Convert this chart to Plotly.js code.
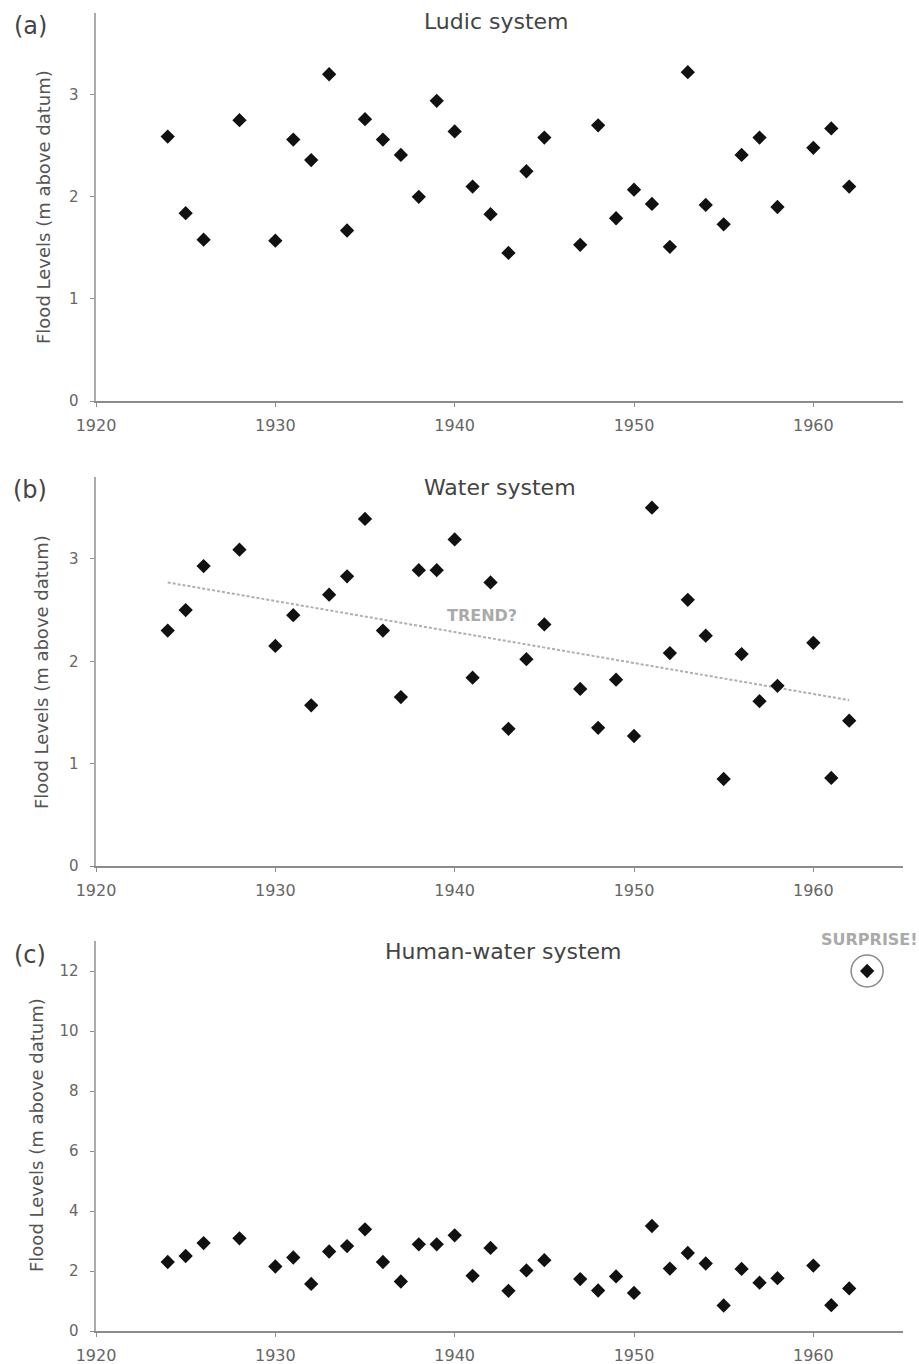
<!DOCTYPE html>
<html>
<head>
<meta charset="utf-8">
<script src="https://cdn.plot.ly/plotly-3.0.1.min.js"></script>
<style>html,body{margin:0;padding:0;background:#fff;}#chart{width:919px;height:1364px;}</style>
</head>
<body>
<div id="chart"></div>
<script>
// ---- data ----
var years = [1924,1925,1926,1928,1930,1931,1932,1933,1934,1935,1936,1937,1938,1939,1940,1941,1942,1943,1944,1945,1947,1948,1949,1950,1951,1952,1953,1954,1955,1956,1957,1958,1960,1961,1962];
var ludicLevels = [2.59,1.84,1.58,2.75,1.57,2.56,2.36,3.20,1.67,2.76,2.56,2.41,2.00,2.94,2.64,2.10,1.83,1.45,2.25,2.58,1.53,2.70,1.79,2.07,1.93,1.51,3.22,1.92,1.73,2.41,2.58,1.90,2.48,2.67,2.10];
var waterLevels = [2.30,2.50,2.93,3.09,2.15,2.45,1.57,2.65,2.83,3.39,2.30,1.65,2.89,2.89,3.19,1.84,2.77,1.34,2.02,2.36,1.73,1.35,1.82,1.27,3.50,2.08,2.60,2.25,0.85,2.07,1.61,1.76,2.18,0.86,1.42];
var trendYears = [1924, 1962];
var trendLevels = [2.77, 1.62];
var surpriseYear = [1963];
var surpriseLevel = [12];
var panelTitles = ["Ludic system", "Water system", "Human-water system"];
var panelLetters = ["(a)", "(b)", "(c)"];
var yTitle = "Flood Levels (m above datum)";

// ---- layout helpers ----
var W = 919, H = 1364, ML = 96, MR = 16, MT = 13, MB = 33;
var PW = W - ML - MR, PH = H - MT - MB;
function px(x){ return (x - ML) / PW; }
function py(y){ return (H - MB - y) / PH; }

var FONT = "DejaVu Sans, Liberation Sans, Arial, sans-serif";
var marker = {symbol: "diamond", size: 11, color: "#111"};

var traces = [
  {x: years, y: ludicLevels, xaxis: "x", yaxis: "y", mode: "markers", type: "scatter", marker: marker},
  {x: trendYears, y: trendLevels, xaxis: "x2", yaxis: "y2", mode: "lines", type: "scatter", line: {color: "#b0b0b0", width: 2, dash: "3px,2px"}},
  {x: years, y: waterLevels, xaxis: "x2", yaxis: "y2", mode: "markers", type: "scatter", marker: marker},
  {x: years, y: waterLevels, xaxis: "x3", yaxis: "y3", mode: "markers", type: "scatter", marker: marker},
  {x: surpriseYear, y: surpriseLevel, xaxis: "x3", yaxis: "y3", mode: "markers", type: "scatter",
   marker: {symbol: "circle-open", size: 32, color: "#8a8a8a", line: {width: 1.5, color: "#8a8a8a"}}},
  {x: surpriseYear, y: surpriseLevel, xaxis: "x3", yaxis: "y3", mode: "markers", type: "scatter", marker: marker}
];

function xax(anchor){
  return {anchor: anchor, domain: [0,1], range: [1920, 1965], dtick: 10, tick0: 1920,
    showline: true, linecolor: "#8c8c8c", linewidth: 2, showgrid: false, zeroline: false,
    ticks: "outside", ticklen: 4, tickwidth: 1, tickcolor: "#8c8c8c", ticklabelstandoff: 5,
    tickfont: {family: FONT, size: 16, color: "#666"}};
}
function yax(anchor, dom, range, dtick){
  return {anchor: anchor, domain: dom, range: range, dtick: dtick, tick0: 0,
    showline: true, linecolor: "#ababab", linewidth: 2.5, showgrid: false, zeroline: false,
    ticks: "outside", ticklen: 4, tickwidth: 1, tickcolor: "#8c8c8c", ticklabelstandoff: 8,
    tickfont: {family: FONT, size: 15, color: "#666"}};
}

var titleFont = {family: FONT, size: 22, color: "#444"};
var letterFont = {family: FONT, size: 24, color: "#444"};
var ytFont = {family: FONT, size: 18, color: "#555"};
var noteFont = {family: "DejaVu Sans, sans-serif", size: 16, color: "#aaaaaa", weight: "bold"};

function ann(text, x, y, font, extra){
  var a = {text: text, xref: "paper", yref: "paper", x: px(x), y: py(y), xanchor: "center", yanchor: "middle", showarrow: false, font: font};
  if (extra) for (var k in extra) a[k] = extra[k];
  return a;
}

var annotations = [
  ann(panelLetters[0], 30, 26, letterFont),
  ann(panelLetters[1], 30, 490, letterFont),
  ann(panelLetters[2], 30, 955, letterFont),
  ann(panelTitles[0], 496, 22, titleFont),
  ann(panelTitles[1], 500, 487, titleFont),
  ann(panelTitles[2], 504, 951, titleFont),
  ann(yTitle, 44, 207, ytFont, {textangle: -90}),
  ann(yTitle, 41, 672, ytFont, {textangle: -90}),
  ann(yTitle, 36, 1135, ytFont, {textangle: -90}),
  ann("TREND?", 482, 615, noteFont),
  ann("SURPRISE!", 869, 939, noteFont)
];

var layout = {
  width: W, height: H, showlegend: false,
  margin: {l: ML, r: MR, t: MT, b: MB, pad: 0},
  paper_bgcolor: "#fff", plot_bgcolor: "#fff",
  font: {family: FONT},
  xaxis: xax("y"), yaxis: yax("x", [py(401), py(13)], [0, 3.8], 1),
  xaxis2: xax("y2"), yaxis2: yax("x2", [py(866), py(477)], [0, 3.8], 1),
  xaxis3: xax("y3"), yaxis3: yax("x3", [py(1331), py(941)], [0, 13], 2),
  annotations: annotations
};

Plotly.newPlot("chart", traces, layout, {displayModeBar: false, staticPlot: true});
</script>
</body>
</html>
